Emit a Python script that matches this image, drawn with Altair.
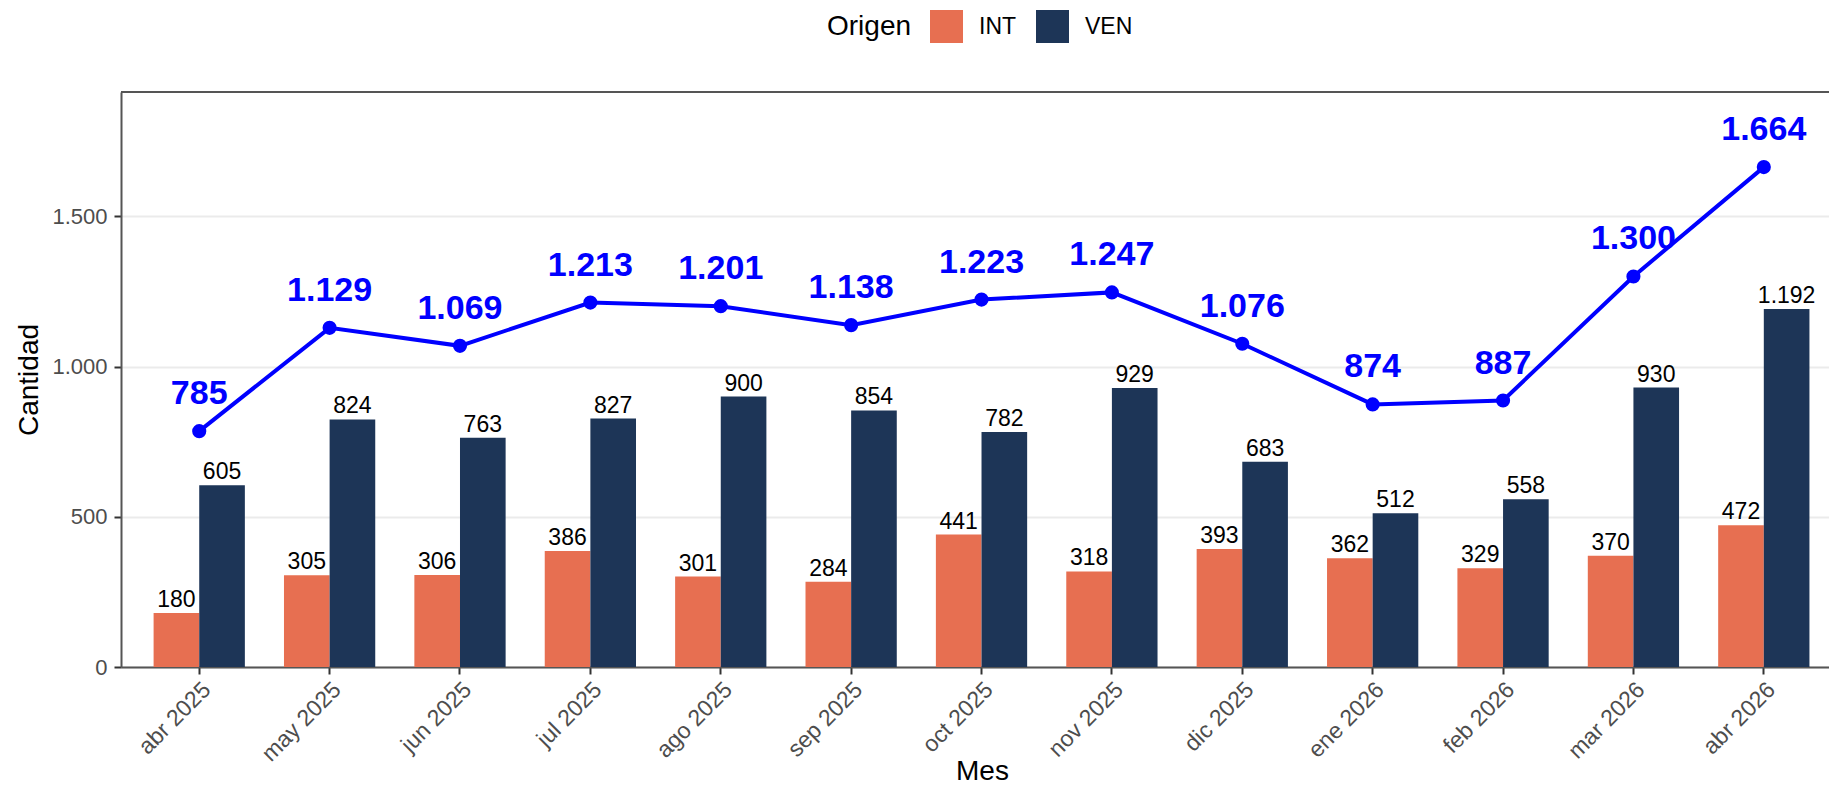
import altair as alt
import pandas as pd

months = ["abr 2025", "may 2025", "jun 2025", "jul 2025", "ago 2025", "sep 2025",
          "oct 2025", "nov 2025", "dic 2025", "ene 2026", "feb 2026", "mar 2026", "abr 2026"]
int_vals = [180, 305, 306, 386, 301, 284, 441, 318, 393, 362, 329, 370, 472]
ven_vals = [605, 824, 763, 827, 900, 854, 782, 929, 683, 512, 558, 930, 1192]
totals = [785, 1129, 1069, 1213, 1201, 1138, 1223, 1247, 1076, 874, 887, 1300, 1664]
origins = ["INT", "VEN"]
colors = ["#E76F51", "#1D3557"]
y_ticks = [0, 500, 1000, 1500]


def fmt(v):
    return f"{v:,}".replace(",", ".")


rows = []
for m, a, b in zip(months, int_vals, ven_vals):
    rows.append({"Mes": m, "Origen": "INT", "Cantidad": a, "lab": fmt(a)})
    rows.append({"Mes": m, "Origen": "VEN", "Cantidad": b, "lab": fmt(b)})
bars_df = pd.DataFrame(rows)
tot_df = pd.DataFrame({"Mes": months, "Total": totals, "lab": [fmt(t) for t in totals]})

FONT = "Liberation Sans"

x_enc = alt.X(
    "Mes:N", sort=months, title="Mes",
    scale=alt.Scale(paddingInner=0, paddingOuter=0.05, align=1),
    axis=alt.Axis(labelAngle=-45, labelAlign="right", labelBaseline="top",
                  labelFontSize=23, labelColor="#4D4D4D", labelPadding=4,
                  tickSize=7, tickColor="#333333", tickWidth=2,
                  domainColor="#555555", domainWidth=2,
                  titleFontSize=28, titleFontWeight="normal", titleColor="black",
                  titleX=861, titleY=112, titleBaseline="alphabetic", titleAlign="center",
                  grid=False),
)
y_scale = alt.Scale(domain=[0, 1914], nice=False, zero=True)
y_axis = alt.Axis(values=y_ticks, labelExpr="replace(format(datum.value, ','), ',', '.')",
                  labelFontSize=22, labelColor="#4D4D4D", labelPadding=7,
                  tickSize=7, tickColor="#333333", tickWidth=2,
                  domainColor="#555555", domainWidth=2,
                  gridColor="#EBEBEB", gridWidth=2,
                  title="Cantidad", titleFontSize=28, titleFontWeight="normal",
                  titleColor="black", titlePadding=8)
xoff = alt.XOffset("Origen:N", sort=origins,
                   scale=alt.Scale(paddingInner=0, paddingOuter=0.4286))

bars = alt.Chart(bars_df).mark_bar().encode(
    x=x_enc,
    xOffset=xoff,
    y=alt.Y("Cantidad:Q", scale=y_scale, axis=y_axis),
    color=alt.Color("Origen:N", scale=alt.Scale(domain=origins, range=colors),
                    legend=alt.Legend(orient="none", legendX=706, legendY=-82,
                                      direction="horizontal", titleOrient="left",
                                      symbolType="square", symbolSize=1089,
                                      symbolStrokeWidth=0, symbolOpacity=1,
                                      labelFontSize=23, labelColor="black",
                                      titleFontSize=28, titleFontWeight="normal",
                                      titleColor="black", labelOffset=16,
                                      columnPadding=19, titlePadding=18)),
)

bar_text = alt.Chart(bars_df).mark_text(
    fontSize=23, dy=-6, baseline="alphabetic", color="black", font=FONT
).encode(
    x=alt.X("Mes:N", sort=months),
    xOffset=xoff,
    y=alt.Y("Cantidad:Q"),
    text="lab:N",
)

line = alt.Chart(tot_df).mark_line(color="#0000FF", strokeWidth=4).encode(
    x=alt.X("Mes:N", sort=months),
    y=alt.Y("Total:Q"),
)
pts = alt.Chart(tot_df).mark_circle(color="#0000FF", size=200, opacity=1).encode(
    x=alt.X("Mes:N", sort=months),
    y=alt.Y("Total:Q"),
)
tot_text = alt.Chart(tot_df).mark_text(
    fontSize=34, fontWeight="bold", color="#0000FF", dy=-27,
    baseline="alphabetic", font=FONT
).encode(
    x=alt.X("Mes:N", sort=months),
    y=alt.Y("Total:Q"),
    text="lab:N",
)

top_border = alt.Chart(pd.DataFrame({"k": [0]})).mark_rule(
    color="#555555", strokeWidth=2
).encode(y=alt.value(0))

chart = alt.layer(bars, bar_text, line, pts, tot_text, top_border).properties(
    width=1708, height=575,
    padding={"left": 113, "top": 84, "right": 0, "bottom": 123},
    autosize=alt.AutoSizeParams(type="none"),
).configure(font=FONT).configure_view(stroke=None)

chart.save("out.html", embed_options={"renderer": "svg", "actions": False})
